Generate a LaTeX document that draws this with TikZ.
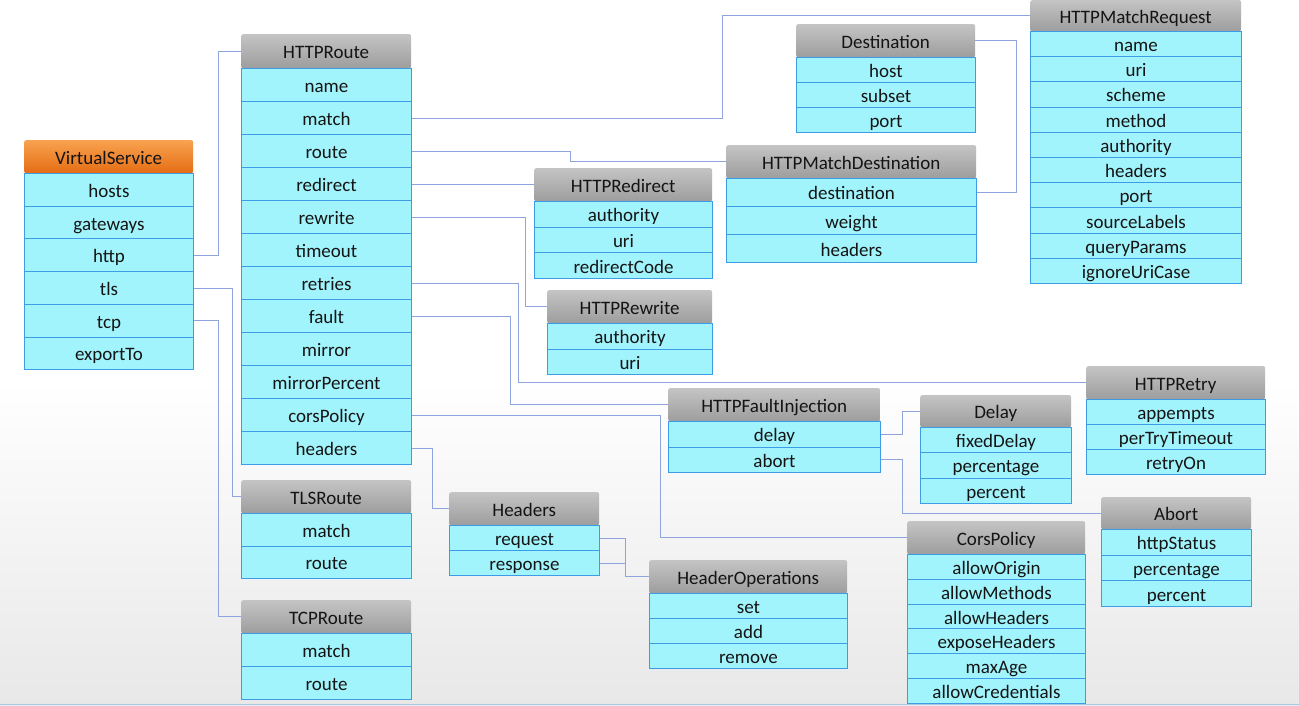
\documentclass[tikz,border=0pt]{standalone}
\usepackage{fontspec}
\setmainfont{Carlito}
\definecolor{rowfill}{HTML}{A2F4FC}
\definecolor{rowline}{HTML}{3E9BE6}
\definecolor{hdrtop}{HTML}{C4C4C4}
\definecolor{hdrbot}{HTML}{9D9D9D}
\definecolor{ortop}{HTML}{F8A24F}
\definecolor{orbot}{HTML}{E56D14}
\definecolor{conncol}{HTML}{8FA3DD}
\definecolor{txt}{HTML}{141414}
\definecolor{bgbot}{HTML}{E8E8E8}
\definecolor{baseln}{HTML}{A8CBEA}
\tikzset{
  boxfont/.style={text=txt, font=\fontsize{19}{22}\selectfont, text height=16pt, text depth=1pt, inner sep=0pt},
  hdr/.style={boxfont, top color=hdrtop, bottom color=hdrbot, draw=none, rounded corners=2pt},
  orhdr/.style={boxfont, top color=ortop, bottom color=orbot, draw=none, rounded corners=2pt},
  rowbox/.style={boxfont, fill=rowfill, draw=rowline, line width=1pt},
  conn/.style={draw=conncol, line width=0.9pt},
}
% #1 name, #2 title, #3 x, #4 y, #5 width, #6 header height, #7 row height, #8 rows, #9 header style
\newcommand\umlbox[9]{%
  \node[#9, minimum width=#5pt, minimum height=#6pt, anchor=north west] (#1) at (#3,#4) {#2};
  \foreach \rowtext [count=\i] in {#8} {
    \node[rowbox, minimum width=#5pt, minimum height=#7pt, anchor=north west] (#1-\i) at (#3,{#4+#6+(\i-1)*#7}) {\rowtext};
  }
}
\begin{document}
\begin{tikzpicture}[x=1pt,y=-1pt]
\useasboundingbox (0,0) rectangle (1299,706);
\fill[white] (0,0) rectangle (1299,381);
\shade[top color=white, bottom color=bgbot] (0,380) rectangle (1299,706);
\draw[baseln, line width=1.5pt] (0,704.5) -- (1299,704.5);

\umlbox{vs}{VirtualService}{24}{140}{169}{33}{32.7}{hosts,gateways,http,tls,tcp,exportTo}{orhdr}
\umlbox{hr}{HTTPRoute}{241}{34}{170}{34}{33}{name,match,route,redirect,rewrite,timeout,retries,fault,mirror,mirrorPercent,corsPolicy,headers}{hdr}
\umlbox{tlsr}{TLSRoute}{241}{480}{170}{33}{32.5}{match,route}{hdr}
\umlbox{tcpr}{TCPRoute}{241}{600}{170}{33}{33}{match,route}{hdr}
\umlbox{hdrs}{Headers}{449}{492}{150}{33}{25}{request,response}{hdr}
\umlbox{hops}{HeaderOperations}{649}{560}{198}{33}{25}{set,add,remove}{hdr}
\umlbox{cors}{CorsPolicy}{907}{521}{178}{33}{24.8}{allowOrigin,allowMethods,allowHeaders,exposeHeaders,maxAge,allowCredentials}{hdr}
\umlbox{hfi}{HTTPFaultInjection}{668}{388}{212}{33}{25.5}{delay,abort}{hdr}
\umlbox{delay}{Delay}{920}{395}{151}{32}{25.3}{fixedDelay,percentage,percent}{hdr}
\umlbox{abort}{Abort}{1101}{497}{150}{32}{25.7}{httpStatus,percentage,percent}{hdr}
\umlbox{hretry}{HTTPRetry}{1086}{366}{179}{33}{25}{appempts,perTryTimeout,retryOn}{hdr}
\umlbox{hrw}{HTTPRewrite}{547}{290}{165}{33}{25.5}{authority,uri}{hdr}
\umlbox{hrd}{HTTPRedirect}{534}{168}{178}{33}{25.7}{authority,uri,redirectCode}{hdr}
\umlbox{hmd}{HTTPMatchDestination}{726}{145}{250}{33}{28}{destination,weight,headers}{hdr}
\umlbox{dest}{Destination}{796}{24}{179}{33}{25}{host,subset,port}{hdr}
\umlbox{hmr}{HTTPMatchRequest}{1030}{0}{211}{31}{25.2}{name,uri,scheme,method,authority,headers,port,sourceLabels,queryParams,ignoreUriCase}{hdr}

% connectors
\draw[conn] (vs-3.east) -- ++(24,0) |- (hr.west);
\draw[conn] (vs-4.east) -- ++(38,0) |- (tlsr.west);
\draw[conn] (vs-5.east) -- ++(24,0) |- (tcpr.west);
\draw[conn] (hr-2.east) -- ++(310,0) |- (hmr.west);
\draw[conn] (hr-3.east) -- ++(158,0) |- (hmd.west);
\draw[conn] (hr-4.east) -- ++(61,0) |- (hrd.west);
\draw[conn] (hr-5.east) -- ++(113,0) |- (hrw.west);
\draw[conn] (hr-7.east) -- ++(106,0) |- (hretry.west);
\draw[conn] (hr-8.east) -- ++(98,0) |- (hfi.west);
\draw[conn] (hr-11.east) -- ++(248,0) |- (cors.west);
\draw[conn] (hr-12.east) -- ++(20,0) |- (hdrs.west);
\draw[conn] (dest.east) -- ++(41,0) |- (hmd-1.east);
\draw[conn] (hfi-1.east) -- ++(21,0) |- (delay.west);
\draw[conn] (hfi-2.east) -- ++(21,0) |- (abort.west);
\draw[conn] (hdrs-1.east) -- ++(25,0) |- (hops.west);
\draw[conn] (hdrs-2.east) -- ++(25,0);
\end{tikzpicture}
\end{document}
